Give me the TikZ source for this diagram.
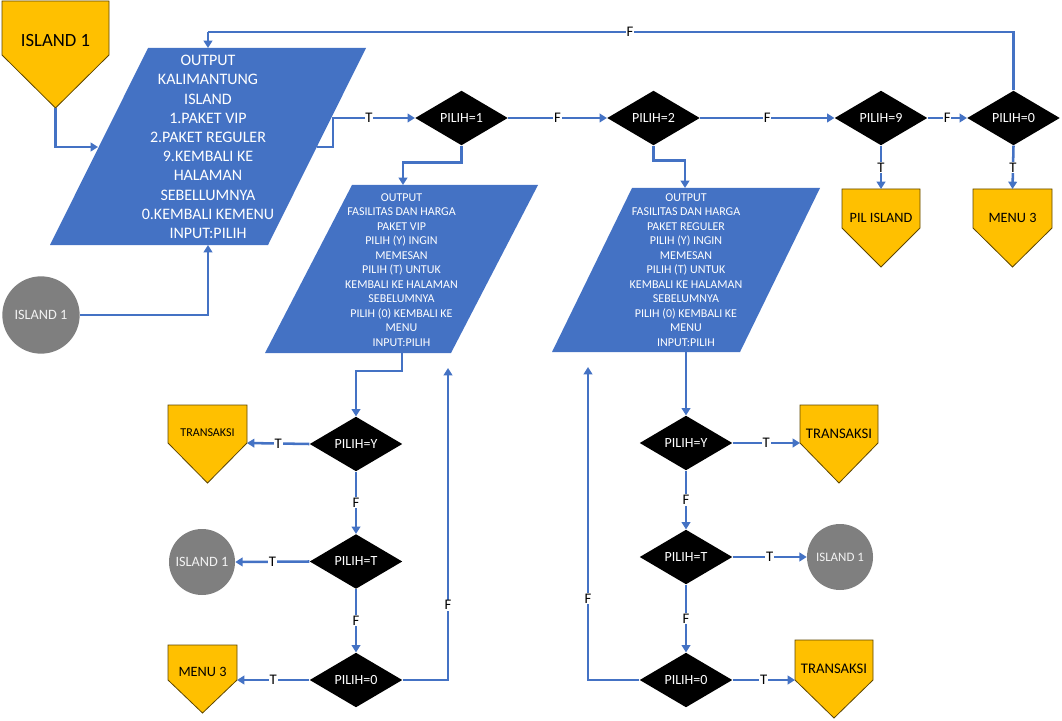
\documentclass[tikz,border=0pt]{standalone}
\usepackage{fontspec}
\setmainfont{Carlito}
\usetikzlibrary{arrows.meta,shapes.geometric}
\definecolor{obl}{HTML}{4472C4}
\definecolor{oyel}{HTML}{FFC000}
\definecolor{ogry}{HTML}{7F7F7F}
\definecolor{odrk}{HTML}{5E4600}
\definecolor{owht}{HTML}{F2F2F2}
\newcommand\offpg[9]{%
  \draw[offst] (#2,#4) -- (#3,#4) -- (#3,#5) -- ({(#2+#3)/2},#6) -- (#2,#5) -- cycle;
  \node[font=\fontsize{#8}{#8}\selectfont,inner sep=0pt] (#1) at ({(#2+#3)/2},#7) {#9};
  \coordinate (#1-w) at (#2,#5);
  \coordinate (#1-e) at (#3,#5);
  \coordinate (#1-n) at ({(#2+#3)/2},#4);
  \coordinate (#1-s) at ({(#2+#3)/2},#6);
}
\begin{document}
\begin{tikzpicture}[x=0.75pt,y=-0.75pt,
  conn/.style={draw=obl,line width=1.9pt},
  arr/.style={conn,-{Triangle[length=5.5pt,width=6.5pt]}},
  dia/.style={diamond,fill=black,text=white,minimum width=69.5pt,minimum height=41pt,inner sep=0pt,aspect=2,font=\fontsize{10.5}{12}\selectfont},
  lab/.style={fill=white,inner sep=0.6pt,font=\fontsize{11}{12}\selectfont,text=black},
  offst/.style={fill=oyel,draw=odrk,line width=0.6pt},
  parast/.style={fill=obl},
  ptxt/.style={text=white,align=center,inner sep=0pt},
  circst/.style={circle,fill=ogry,text=owht,inner sep=0pt}]
\useasboundingbox (0,0) rectangle (1062,720);

% main parallelogram
\fill[parast] (148,48) -- (366,48) -- (268,245) -- (50,245) -- cycle;
\node[ptxt,font=\fontsize{12}{14.4}\selectfont] (mainp) at (208,147) {OUTPUT\\KALIMANTUNG\\ISLAND\\1.PAKET VIP\\2.PAKET REGULER\\9.KEMBALI KE\\HALAMAN\\SEBELLUMNYA\\0.KEMBALI KEMENU\\INPUT:PILIH};
\coordinate (mainTop) at (208,48);
\coordinate (mainBot) at (208,245);
\coordinate (mainL) at (98,147);
\coordinate (mainR) at (317,147);

% sub parallelogram 1
\fill[parast] (352,185) -- (538,185) -- (451,353) -- (265,353) -- cycle;
\node[ptxt,font=\fontsize{9}{10.9}\selectfont] (p1) at (401.5,270) {OUTPUT\\FASILITAS DAN HARGA\\PAKET VIP\\PILIH (Y) INGIN\\MEMESAN\\PILIH (T) UNTUK\\KEMBALI KE HALAMAN\\SEBELUMNYA\\PILIH (0) KEMBALI KE\\MENU\\INPUT:PILIH};
\coordinate (p1top) at (403,185);
\coordinate (p1bot) at (402,353);

% sub parallelogram 2
\fill[parast] (632,188) -- (820,188) -- (740,352) -- (552,352) -- cycle;
\node[ptxt,font=\fontsize{9}{10.9}\selectfont] (p2) at (686,270) {OUTPUT\\FASILITAS DAN HARGA\\PAKET REGULER\\PILIH (Y) INGIN\\MEMESAN\\PILIH (T) UNTUK\\KEMBALI KE HALAMAN\\SEBELUMNYA\\PILIH (0) KEMBALI KE\\MENU\\INPUT:PILIH};
\coordinate (p2top) at (685,188);
\coordinate (p2bot) at (686,352);

% off-page connectors
\offpg{tl}{2}{109}{1}{55}{108}{41}{14}{ISLAND 1}
\offpg{pil}{842}{920}{189}{228}{267}{218}{10.7}{PIL ISLAND}
\offpg{mta}{973}{1052}{189}{228}{267}{218}{10.7}{MENU 3}
\offpg{ltr}{168}{247}{405}{443}{483}{433}{9}{TRANSAKSI}
\offpg{lmt}{168}{237}{645}{680}{713}{672}{10.7}{MENU 3}
\offpg{rtra}{800}{878}{405}{443}{483}{434}{11}{TRANSAKSI}
\offpg{rtrb}{795}{873}{640}{680}{718}{669}{11}{TRANSAKSI}

% circles
\node[circst,minimum size=58pt,font=\fontsize{10.7}{12}\selectfont] (c0) at (41,315) {ISLAND 1};
\node[circst,minimum size=49.5pt,font=\fontsize{10.7}{12}\selectfont] (lc) at (202,562) {ISLAND 1};
\node[circst,minimum size=49.5pt,font=\fontsize{9.7}{12}\selectfont] (rc) at (840,557) {ISLAND 1};

% diamonds
\node[dia] (d1) at (461.5,118) {PILIH=1};
\node[dia] (d2) at (653.5,118) {PILIH=2};
\node[dia] (d9) at (881,118) {PILIH=9};
\node[dia] (d0) at (1013.5,118) {PILIH=0};
\node[dia] (ly) at (356,444) {PILIH=Y};
\node[dia] (lt) at (356,561.5) {PILIH=T};
\node[dia] (l0) at (356,680) {PILIH=0};
\node[dia] (ry) at (686,443) {PILIH=Y};
\node[dia] (rt) at (686,557) {PILIH=T};
\node[dia] (r0) at (686,680) {PILIH=0};

\coordinate (lret) at (448,368);
\coordinate (rret) at (588,367);
\coordinate (topR) at (1013.5,32);
\coordinate (topL) at (208,32);

% connectors
\draw[arr] (tl-s) |- (mainL);
\draw[arr] (c0.east) -| (mainBot);
\draw[arr] (mainR) -- ++(16,0) |- (d1.west) node[lab,pos=0.72]{T};
\draw[arr] (d1.east) -- node[lab]{F} (d2.west);
\draw[arr] (d2.east) -- node[lab]{F} (d9.west);
\draw[arr] (d9.east) -- node[lab]{F} (d0.west);
\draw[arr] (d9.south) -- node[lab]{T} (pil-n);
\draw[arr] (d0.south) -- node[lab]{T} (mta-n);
\draw[conn] (d0.north) -- (topR) -- node[lab,pos=0.476]{F} (topL);
\draw[arr] (topL) -- (mainTop);
\draw[arr] (d1.south) -- ++(0,17) -| (p1top);
\draw[arr] (d2.south) -- ++(0,15) -| (p2top);

\draw[arr] (p1bot) -- ++(0,18) -| (ly.north);
\draw[arr] (ly.west) -- node[lab]{T} (ltr-e);
\draw[arr] (ly.south) -- node[lab]{F} (lt.north);
\draw[arr] (lt.west) -- node[lab]{T} (lc.east);
\draw[arr] (lt.south) -- node[lab]{F} (l0.north);
\draw[arr] (l0.west) -- node[lab]{T} (lmt-e);
\draw[arr] (l0.east) -| node[lab,pos=0.62]{F} (lret);

\draw[arr] (p2bot) -- (ry.north);
\draw[arr] (ry.east) -- node[lab]{T} (rtra-w);
\draw[arr] (ry.south) -- node[lab]{F} (rt.north);
\draw[arr] (rt.east) -- node[lab]{T} (rc.west);
\draw[arr] (rt.south) -- node[lab]{F} (r0.north);
\draw[arr] (r0.east) -- node[lab]{T} (rtrb-w);
\draw[arr] (r0.west) -| node[lab,pos=0.63]{F} (rret);
\end{tikzpicture}
\end{document}
